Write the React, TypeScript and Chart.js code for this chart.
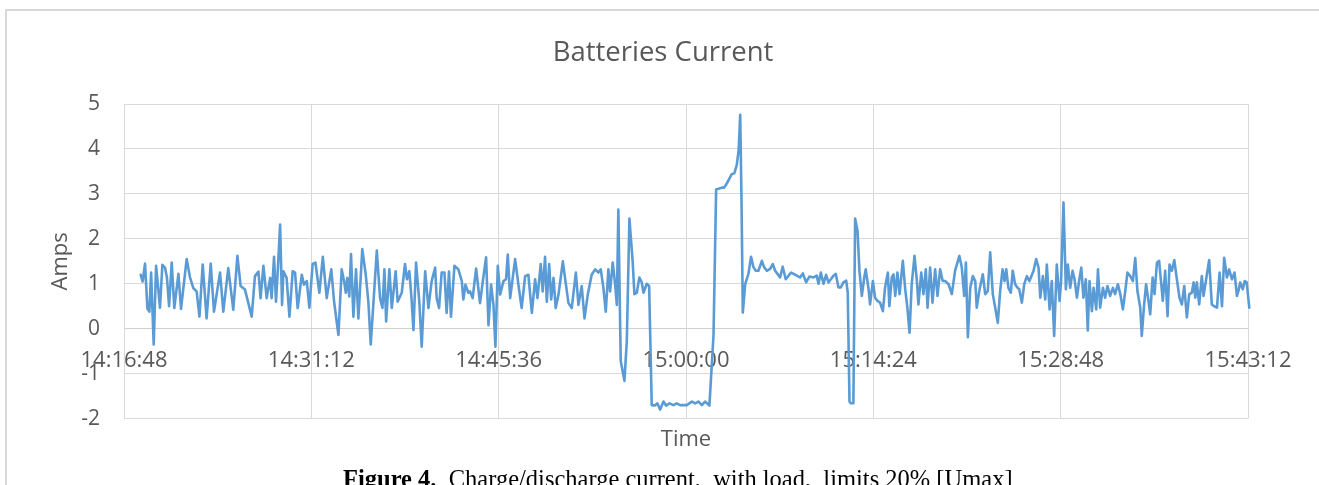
import React, { useEffect, useRef } from "react";
import { Chart, registerables } from "chart.js";

Chart.register(...registerables);

// Axis definition (seconds after 14:16:48)
const START_CLOCK_SECONDS = 14 * 3600 + 16 * 60 + 48;
const X_MIN = 0;
const X_MAX = 5184;
const X_STEP = 864;
const Y_MIN = -2;
const Y_MAX = 5;
const Y_STEP = 1;

const CHART_TITLE = "Batteries Current";
const X_TITLE = "Time";
const Y_TITLE = "Amps";

// [seconds after 14:16:48, amps]
const beforeEvent: [number, number][] = [
  [77, 1.2], [86, 1.05], [97, 1.45], [108, 0.45], [117, 0.38], [125, 1.25], [137, -0.35], [148, 1.4], [166, 0.47], [177, 1.42],
  [189, 1.36], [198, 1.14], [208, 0.5], [220, 1.47], [232, 0.46], [251, 1.22], [263, 0.44], [289, 1.55], [304, 1.15], [320, 0.9],
  [335, 0.83], [348, 0.27], [363, 1.43], [381, 0.23], [400, 1.45], [415, 0.38], [443, 1.25], [458, 0.38], [481, 1.35], [504, 0.42],
  [523, 1.62], [538, 0.95], [558, 0.87], [589, 0.27], [604, 1.17], [620, 1.27], [630, 0.68], [643, 1.4], [658, 0.68], [674, 1.13],
  [681, 0.68], [692, 1.6], [701, 0.6], [710, 1.36], [720, 2.32], [729, 0.53], [735, 1.28], [750, 1.13], [763, 0.27], [778, 1.28],
  [789, 1.25], [801, 0.46], [820, 1.2], [830, 0.98], [843, 1.06], [855, 0.47], [870, 1.44], [883, 1.47], [901, 0.8], [917, 1.6],
  [935, 0.68], [956, 1.32], [969, 0.6], [989, -0.14], [1004, 1.32], [1015, 1.06], [1023, 0.8], [1030, 1.13], [1039, 0.72], [1047, 1.66],
  [1058, 0.27], [1070, 1.32], [1081, 0.23], [1099, 1.77], [1115, 1.2], [1127, 0.6], [1138, -0.35], [1166, 1.74], [1181, 0.68], [1192, 0.46],
  [1201, 1.32], [1209, 0.16], [1224, 1.32], [1235, 0.46], [1253, 1.28], [1262, 0.6], [1281, 0.8], [1296, 1.44], [1305, 1.1], [1316, 1.28],
  [1326, 0.68], [1335, -0.03], [1347, 1.47], [1362, 0.6], [1373, -0.4], [1389, 1.28], [1404, 0.46], [1419, 1.06], [1435, 1.36], [1442, 0.68],
  [1453, 0.46], [1465, 1.25], [1478, 1.25], [1488, 0.35], [1499, 1.27], [1508, 0.27], [1524, 1.4], [1542, 1.32], [1558, 1.06], [1565, 0.65],
  [1575, 0.98], [1588, 0.8], [1596, 0.83], [1608, 0.68], [1624, 1.34], [1642, 0.57], [1655, 1.06], [1670, 1.59], [1681, 0.08], [1693, 0.98],
  [1704, 0.53], [1713, -0.4], [1724, 1.4], [1735, 0.76], [1750, 1.06], [1762, 1.1], [1770, 1.65], [1781, 0.68], [1804, 1.55], [1819, 0.98],
  [1834, 0.46], [1850, 1.17], [1865, 1.2], [1881, 0.35], [1896, 1.1], [1907, 0.68], [1922, 1.44], [1931, 0.83], [1942, 1.6], [1950, 0.6],
  [1961, 1.44], [1970, 0.65], [1981, 1.13], [1991, 0.46], [2004, 0.76], [2024, 1.5], [2034, 1.13], [2050, 0.57], [2065, 0.46], [2084, 1.25],
  [2096, 0.53], [2111, 0.95], [2124, 0.23], [2139, 0.76], [2157, 1.2], [2173, 1.32], [2188, 1.25], [2199, 1.32], [2211, 0.91], [2222, 0.38],
  [2234, 1.32], [2242, 0.83], [2254, 1.47], [2265, 1.0], [2273, 0.53],
];

const chargeDischargeEvent: [number, number][] = [
  [2280, 2.65], [2291, -0.72], [2308, -1.16], [2319, -0.28], [2331, 2.45], [2346, 1.5], [2354, 0.77], [2365, 0.8], [2377, 1.14], [2388, 1.03],
  [2396, 0.8], [2411, 1.0], [2422, 0.95], [2434, -1.7], [2449, -1.71], [2460, -1.66], [2473, -1.8], [2488, -1.62], [2500, -1.71], [2516, -1.66],
  [2534, -1.7], [2549, -1.66], [2565, -1.7], [2596, -1.7], [2619, -1.62], [2634, -1.66], [2649, -1.62], [2665, -1.7], [2680, -1.62], [2700, -1.71],
  [2719, -0.13], [2731, 3.1], [2746, 3.12], [2757, 3.14], [2768, 3.14], [2780, 3.23], [2792, 3.34], [2803, 3.44], [2815, 3.46], [2826, 3.64],
  [2835, 3.98], [2842, 4.76], [2848, 2.86], [2854, 0.36], [2865, 0.99], [2880, 1.22], [2892, 1.6], [2903, 1.37], [2914, 1.29], [2926, 1.29],
  [2942, 1.51], [2952, 1.37], [2965, 1.29], [2980, 1.33], [2992, 1.44], [3003, 1.29], [3014, 1.22], [3026, 1.14], [3038, 1.38], [3052, 1.1],
  [3065, 1.18], [3077, 1.25], [3088, 1.22], [3103, 1.18], [3118, 1.14], [3131, 1.23], [3146, 1.03], [3161, 1.16], [3180, 1.14], [3195, 1.18],
  [3203, 1.0], [3214, 1.25], [3226, 1.0], [3238, 1.2], [3249, 1.03], [3260, 1.1], [3272, 1.18], [3283, 1.22], [3295, 0.92], [3306, 0.92],
  [3318, 1.03], [3331, 1.07], [3338, 0.8], [3346, -1.62], [3352, -1.66], [3364, -1.66], [3372, 2.45],
];

const afterEvent: [number, number][] = [
  [3383, 2.18], [3392, 1.28], [3403, 0.73], [3414, 1.14], [3421, 1.32], [3434, 0.88], [3441, 0.54], [3454, 1.06], [3464, 0.69], [3475, 0.62],
  [3487, 0.58], [3500, 0.39], [3510, 0.91], [3523, 1.25], [3530, 0.5], [3541, 1.14], [3549, 1.21], [3557, 0.73], [3567, 1.25], [3577, 0.77],
  [3592, 1.51], [3603, 0.88], [3613, 0.47], [3623, -0.09], [3633, 0.99], [3646, 1.62], [3657, 1.06], [3664, 0.54], [3677, 1.25], [3687, 0.77],
  [3698, 1.32], [3706, 0.47], [3718, 1.36], [3729, 0.58], [3741, 1.32], [3752, 0.73], [3764, 1.32], [3776, 1.06], [3787, 1.06], [3803, 0.99],
  [3818, 0.77], [3833, 1.29], [3853, 1.62], [3864, 1.36], [3875, 0.73], [3883, 1.47], [3892, -0.19], [3903, 0.91], [3915, 1.17], [3926, 1.06],
  [3933, 0.47], [3946, 0.88], [3961, 1.21], [3972, 0.77], [3984, 0.84], [3995, 1.7], [4007, 0.77], [4018, 0.47], [4030, 0.13], [4041, 0.84],
  [4052, 1.32], [4061, 1.06], [4069, 1.32], [4079, 0.91], [4090, 0.8], [4099, 1.29], [4110, 0.99], [4121, 0.91], [4129, 0.88], [4141, 0.58],
  [4152, 0.99], [4164, 1.17], [4176, 1.06], [4195, 1.29], [4207, 1.55], [4218, 1.36], [4226, 0.69], [4238, 1.17], [4249, 0.65], [4256, 1.43],
  [4269, 0.43], [4279, 1.06], [4290, -0.16], [4302, 1.43], [4315, 0.62], [4322, 1.06], [4333, 2.81], [4344, 0.88], [4353, 1.43], [4364, 0.91],
  [4375, 1.29], [4384, 1.1], [4395, 0.69], [4405, 1.06], [4415, 1.36], [4425, 0.69], [4436, 1.1], [4445, -0.04], [4453, 1.06], [4464, 0.39],
  [4472, 0.91], [4484, 0.43], [4492, 1.32], [4502, 0.47], [4515, 0.91], [4525, 0.69], [4536, 0.95], [4548, 0.73], [4561, 0.91], [4571, 0.77],
  [4584, 0.99], [4595, 0.77], [4607, 0.43], [4618, 0.84], [4628, 1.25], [4641, 1.17], [4653, 1.06], [4664, 1.57], [4674, 0.84], [4687, 0.47],
  [4694, -0.16], [4705, 0.54], [4714, 0.99], [4725, 0.62], [4733, 0.32], [4744, 1.14], [4753, 0.77], [4764, 1.47], [4774, 1.51], [4784, 0.99],
  [4791, 0.62], [4802, 1.29], [4813, 0.28], [4822, 1.43], [4833, 1.29], [4844, 1.53], [4856, 1.1], [4868, 0.69], [4879, 0.54], [4890, 0.95],
  [4902, 0.25], [4913, 0.77], [4925, 0.8], [4933, 1.03], [4941, 0.69], [4948, 1.03], [4959, 0.54], [4971, 1.17], [4979, 0.73], [4991, 1.1],
  [5005, 1.53], [5017, 0.54], [5028, 0.5], [5041, 0.47], [5053, 1.25], [5064, 0.5], [5074, 1.58], [5087, 1.14], [5097, 1.32], [5110, 1.1],
  [5122, 1.25], [5133, 0.73], [5140, 0.84], [5148, 1.03], [5160, 0.88], [5169, 1.06], [5178, 1.03], [5190, 0.47],
];

const FONT = "'Open Sans', 'DejaVu Sans', sans-serif";
const TEXT_COLOR = "#595959";
const GRID_COLOR = "#d9d9d9";
const LINE_COLOR = "#5b9bd5";

function formatClock(offset: number): string {
  const total = START_CLOCK_SECONDS + offset;
  const h = Math.floor(total / 3600);
  const m = Math.floor((total % 3600) / 60);
  const s = Math.round(total % 60);
  const p = (n: number) => String(n).padStart(2, "0");
  return `${h}:${p(m)}:${p(s)}`;
}

export default function App() {
  const canvasRef = useRef<HTMLCanvasElement | null>(null);

  useEffect(() => {
    if (!canvasRef.current) return;
    const points = [...beforeEvent, ...chargeDischargeEvent, ...afterEvent].map(([t, v]) => ({ x: t, y: v }));
    const chart = new Chart(canvasRef.current, {
      type: "line",
      data: {
        datasets: [
          {
            label: "Batteries Current",
            data: points,
            borderColor: LINE_COLOR,
            backgroundColor: LINE_COLOR,
            borderWidth: 2.6,
            pointRadius: 0,
            tension: 0,
            borderJoinStyle: "round",
            borderCapStyle: "round",
            clip: false,
          } as any,
        ],
      },
      options: {
        responsive: true,
        maintainAspectRatio: false,
        animation: false,
        layout: { padding: { left: 7, right: 0, top: 0, bottom: 28 } },
        plugins: {
          legend: { display: false },
          tooltip: { enabled: false },
          title: {
            display: true,
            text: CHART_TITLE,
            color: TEXT_COLOR,
            font: { family: FONT, size: 27.5, weight: "normal", lineHeight: 1.2 },
            padding: { top: 37, bottom: 34 },
          },
        },
        scales: {
          x: {
            type: "linear",
            position: { y: 0 } as any,
            min: X_MIN,
            max: X_MAX,
            ticks: {
              stepSize: X_STEP,
              autoSkip: false,
              maxRotation: 0,
              color: TEXT_COLOR,
              font: { family: FONT, size: 22 },
              padding: 19,
              callback: (v: any) => formatClock(Number(v)),
            },
            grid: { color: GRID_COLOR, drawTicks: false, lineWidth: 1 },
            border: { display: true, color: "#cfcfcf" },
          },
          xTitle: {
            type: "linear",
            axis: "x",
            position: "bottom",
            display: true,
            ticks: { display: false },
            grid: { display: false, drawTicks: false },
            border: { display: false },
            title: {
              display: true,
              text: X_TITLE,
              color: TEXT_COLOR,
              font: { family: FONT, size: 22, lineHeight: 1.2 },
              padding: { top: 8, bottom: 4 },
            },
          } as any,
          y: {
            type: "linear",
            min: Y_MIN,
            max: Y_MAX,
            ticks: {
              stepSize: Y_STEP,
              color: TEXT_COLOR,
              font: { family: FONT, size: 21 },
              padding: 24,
            },
            grid: { color: GRID_COLOR, drawTicks: false, lineWidth: 1 },
            border: { display: true, color: GRID_COLOR },
            title: {
              display: true,
              text: Y_TITLE,
              color: TEXT_COLOR,
              font: { family: FONT, size: 22, lineHeight: 1.2 },
              padding: { top: 41, bottom: 0 },
            },
            afterFit: (s: any) => {
              s.width = 117;
            },
          },
          yRightSpace: {
            type: "linear",
            axis: "y",
            position: "right",
            display: true,
            ticks: { display: false },
            grid: { display: false, drawTicks: false },
            border: { display: false },
            afterFit: (s: any) => {
              s.width = 71;
            },
          } as any,
        },
      },
    });
    return () => chart.destroy();
  }, []);

  return (
    <div style={{ position: "fixed", left: 0, top: 0, width: 1319, height: 485, overflow: "hidden", background: "#fff" }}>
      <div
        style={{
          position: "absolute",
          left: 5,
          top: 9,
          width: 1330,
          height: 500,
          borderTop: "2px solid #d9d9d9",
          borderLeft: "2px solid #d9d9d9",
        }}
      />
      <div style={{ position: "absolute", left: 0, top: 0, width: 1319, height: 485 }}>
        <canvas ref={canvasRef} />
      </div>
      <div
        style={{
          position: "absolute",
          left: 343,
          top: 466,
          fontFamily: "'Liberation Serif', 'Times New Roman', serif",
          fontSize: 24.5,
          lineHeight: "25px",
          color: "#000",
          whiteSpace: "nowrap",
        }}
      >
        <b>Figure 4.</b>&nbsp; Charge/discharge current,&nbsp; with load,&nbsp; limits 20% [Umax]
      </div>
    </div>
  );
}
